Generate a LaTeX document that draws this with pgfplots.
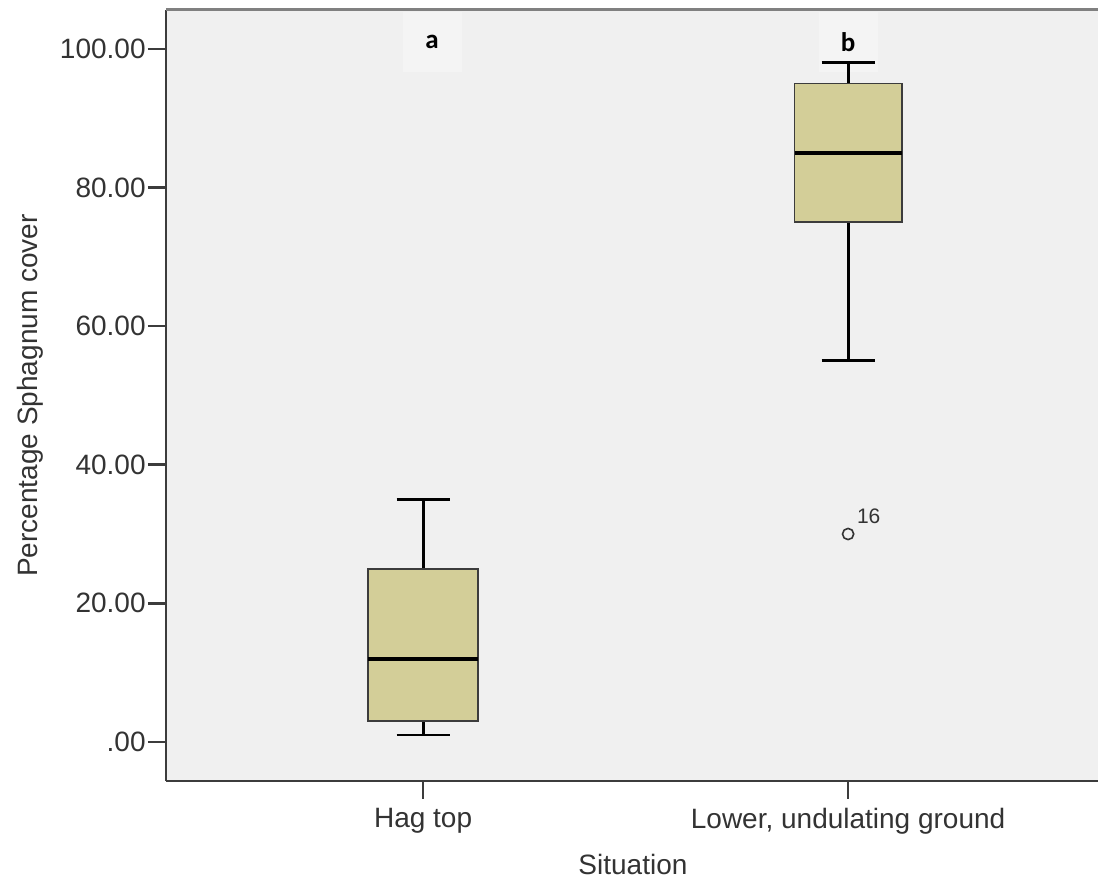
\documentclass[border=0pt]{standalone}
\usepackage{pgfplots}
\pgfplotsset{compat=1.18}
\usepackage{fontspec}
\setmainfont{Liberation Sans}
\newfontfamily\calibri{Carlito}
\definecolor{boxfill}{HTML}{D3CE98}
\definecolor{bgc}{HTML}{F0F0F0}
\definecolor{txt}{HTML}{333333}
\definecolor{framec}{HTML}{3C3C3C}
\begin{document}
\begin{tikzpicture}
\begin{axis}[
  name=ax,
  scale only axis,
  width=466pt, height=385.5pt,
  xmin=-0.605, xmax=1.588,
  ymin=-5.63, ymax=105.6,
  axis background/.style={fill=bgc},
  axis lines=left,
  axis line style={-, line width=1.3pt, color=framec},
  tick align=outside,
  major tick length=9pt,
  tick style={line width=1.3pt, color=framec},
  xtick={0,1},
  xticklabels={Hag top, {Lower, undulating ground}},
  ytick={0,20,40,60,80,100},
  yticklabels={.00,20.00,40.00,60.00,80.00,100.00},
  tick label style={font=\fontsize{14}{17}\selectfont, text=txt},
  yticklabel style={inner sep=1pt},
  xticklabel style={yshift=-1pt},
  xlabel={Situation},
  ylabel={Percentage Sphagnum cover},
  every axis x label/.style={at={(axis description cs:0.501,-0.108)}, anchor=center, font=\fontsize{14}{17}\selectfont, text=txt},
  every axis y label/.style={at={(axis description cs:-0.1459,0.5)}, anchor=center, rotate=90, font=\fontsize{14}{17}\selectfont, text=txt},
  clip=false,
]
\node[fill=white, fill opacity=0.3, text opacity=1, minimum width=29.5pt, minimum height=30pt, font=\calibri\bfseries\fontsize{13.5}{15}\selectfont] at (axis cs:0.021,101) {a};
\node[fill=white, fill opacity=0.3, text opacity=1, minimum width=29.5pt, minimum height=30pt, font=\calibri\bfseries\fontsize{13.5}{15}\selectfont] at (axis cs:1.0,101) {b};
% Hag top: whiskers 1 / 35, box 3-25, median 12
\addplot[draw=black, line width=1.4pt] coordinates {(0,25) (0,35)};
\addplot[draw=black, line width=1.4pt] coordinates {(-0.0625,35) (0.0625,35)};
\addplot[draw=black, line width=1.4pt] coordinates {(0,3) (0,1)};
\addplot[draw=black, line width=1.4pt] coordinates {(-0.0625,1) (0.0625,1)};
\addplot[draw=framec, fill=boxfill, line width=0.9pt] coordinates {(-0.1295,3) (0.1295,3) (0.1295,25) (-0.1295,25)} --cycle;
\addplot[draw=black, line width=2pt] coordinates {(-0.1295,12) (0.1295,12)};
% Lower, undulating ground: whiskers 55 / 98, box 75-95, median 85
\addplot[draw=black, line width=1.4pt] coordinates {(1,95) (1,98)};
\addplot[draw=black, line width=1.4pt] coordinates {(0.9375,98) (1.0625,98)};
\addplot[draw=black, line width=1.4pt] coordinates {(1,75) (1,55)};
\addplot[draw=black, line width=1.4pt] coordinates {(0.9375,55) (1.0625,55)};
\addplot[draw=framec, fill=boxfill, line width=0.9pt] coordinates {(0.874,75) (1.126,75) (1.126,95) (0.874,95)} --cycle;
\addplot[draw=black, line width=2pt] coordinates {(0.874,85) (1.126,85)};
% outlier
\addplot[only marks, mark=o, mark size=2.8pt, draw=txt, line width=0.8pt] coordinates {(1,30)};
\node[anchor=south west, inner sep=0pt, font=\fontsize{10.5}{12}\selectfont, text=txt] at (axis cs:1.02,31.5) {16};
\draw[line width=1.5pt, color=framec!65] (rel axis cs:0,1) -- (rel axis cs:1,1);
\end{axis}
\pgfresetboundingbox
\path[use as bounding box] (ax.south west) ++(-83pt,-50pt) rectangle ([shift={(0pt,5pt)}]ax.north east);
\end{tikzpicture}
\end{document}
